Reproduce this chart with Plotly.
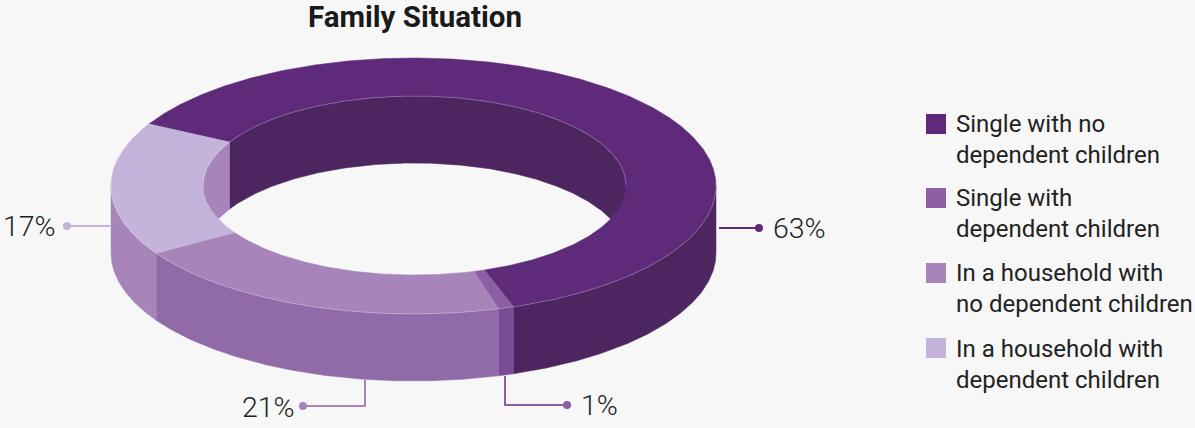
import numpy as np
import plotly.graph_objects as go

categories = ["Single with no<br>dependent children", "Single with<br>dependent children",
              "In a household with<br>no dependent children", "In a household with<br>dependent children"]
values = [63, 0.85, 21.2, 17.25]
labels = ["63%", "1%", "21%", "17%"]

top_colors = ["#5f2a7a", "#8e5ea5", "#a785bb", "#c4b3da"]
side_colors = ["#4d2660", "#7a4a95", "#916ba8", "#a785bb"]
leader_colors = ["#5f2a7a", "#8e5ea5", "#a785bb", "#c4b3da"]

W, H = 1195, 428
BG = "#f7f7f7"
CX, CY = 413.5, 186.0
RX, RY = 302.5, 128.0
ICX, ICY = 414.5, 185.5
IX, IY = 211.5, 89.5
DEPTH = 67.0
START = -61.0
EDGE = "rgba(255,255,255,0.3)"

fracs = np.array(values, dtype=float) / sum(values) * 360.0
edges = START + np.concatenate([[0], np.cumsum(fracs)])


def arc(rx, ry, a0, a1, dy=0.0, cx=CX, cy=CY):
    n = max(2, int(abs(a1 - a0) * 2) + 2)
    t = np.radians(np.linspace(a0, a1, n))
    return cx + rx * np.sin(t), cy - ry * np.cos(t) + dy


def inner(a0, a1, dy=0.0):
    return arc(IX, IY, a0, a1, dy, ICX, ICY)


def poly(fig, xs, ys, color):
    x = np.concatenate(xs + [xs[0][:1]])
    y = np.concatenate(ys + [ys[0][:1]])
    fig.add_trace(go.Scatter(x=x, y=y, mode="lines", fill="toself", fillcolor=color,
                             line=dict(color=color, width=0.5), hoverinfo="skip", showlegend=False))


def overlap(a0, a1, lo, hi):
    """Parts of [a0,a1] inside [lo,hi] modulo 360."""
    out = []
    for k in (-360, 0, 360):
        s, e = max(a0, lo + k), min(a1, hi + k)
        if e > s:
            out.append((s, e))
    return out


fig = go.Figure()

# inner walls: back half of the hole
for i, col in enumerate(side_colors):
    for s, e in overlap(edges[i], edges[i + 1], -90, 90):
        x1, y1 = inner(s, e)
        x2, y2 = inner(e, s, DEPTH)
        poly(fig, [x1, x2], [y1, y2], col)

# outer walls: front half of the ring
for i, col in enumerate(side_colors):
    for s, e in overlap(edges[i], edges[i + 1], 90, 270):
        x1, y1 = arc(RX, RY, s, e)
        x2, y2 = arc(RX, RY, e, s, DEPTH)
        poly(fig, [x1, x2], [y1, y2], col)

# top faces
for i, col in enumerate(top_colors):
    x1, y1 = arc(RX, RY, edges[i], edges[i + 1])
    x2, y2 = inner(edges[i + 1], edges[i])
    poly(fig, [x1, x2], [y1, y2], col)

# pale edges where the top face meets the walls
for (ex, ey) in (arc(RX, RY, 90, 270), inner(-90, 90)):
    fig.add_trace(go.Scatter(x=ex, y=ey, mode="lines", line=dict(color=EDGE, width=0.8),
                             hoverinfo="skip", showlegend=False))

# leader lines
leaders = [
    ([719, 759], [228, 228]),
    ([505, 505, 567], [376, 405, 405]),
    ([365, 365, 303], [380, 406, 406]),
    ([110, 67], [226, 226]),
]
for (lx, ly), col in zip(leaders, leader_colors):
    fig.add_trace(go.Scatter(x=lx, y=ly, mode="lines", line=dict(color=col, width=2),
                             hoverinfo="skip", showlegend=False))
    fig.add_trace(go.Scatter(x=lx[-1:], y=ly[-1:], mode="markers",
                             marker=dict(color=col, size=8), hoverinfo="skip", showlegend=False))

label_pos = [(773, 228, "left"), (581, 405, "left"), (295, 407, "right"), (56, 226, "right")]
annotations = [dict(x=x, y=y, text=t, xref="x", yref="y", xanchor=a, yanchor="middle", showarrow=False,
                    font=dict(family="Roboto Light, Roboto", size=28.5, color="#222222"),
                    borderpad=0, borderwidth=0)
               for (x, y, a), t in zip(label_pos, labels)]

# legend: swatches and their labels
legend_y = [139, 213.5, 288.5, 364]
swatch_y = [124, 198, 273, 348]
for name, col, ly, sy in zip(categories, top_colors, legend_y, swatch_y):
    fig.add_trace(go.Scatter(x=[936], y=[sy], mode="markers", name=name.replace("<br>", " "),
                             marker=dict(symbol="square", size=20, color=col), showlegend=False))
    annotations.append(dict(x=955, y=ly, text=name, xref="x", yref="y", xanchor="left", yanchor="middle",
                            align="left", showarrow=False, borderpad=0,
                            font=dict(family="Roboto", size=24, color="#222222")))

fig.update_layout(
    width=W, height=H, margin=dict(l=0, r=0, t=0, b=0),
    paper_bgcolor=BG, plot_bgcolor=BG,
    xaxis=dict(range=[0, W], visible=False, fixedrange=True),
    yaxis=dict(range=[H, 0], visible=False, fixedrange=True),
    title=dict(text="<b>Family Situation</b>", x=415 / W, xanchor="center", y=1 - 17 / H, yanchor="middle",
               font=dict(family="Roboto", size=29.5, color="#1a1a1a")),
    annotations=annotations,
    showlegend=False,
)
fig.write_html("out.html", config={"displayModeBar": False},
               post_script="document.body.style.margin='0';document.body.style.background='%s';" % BG)
